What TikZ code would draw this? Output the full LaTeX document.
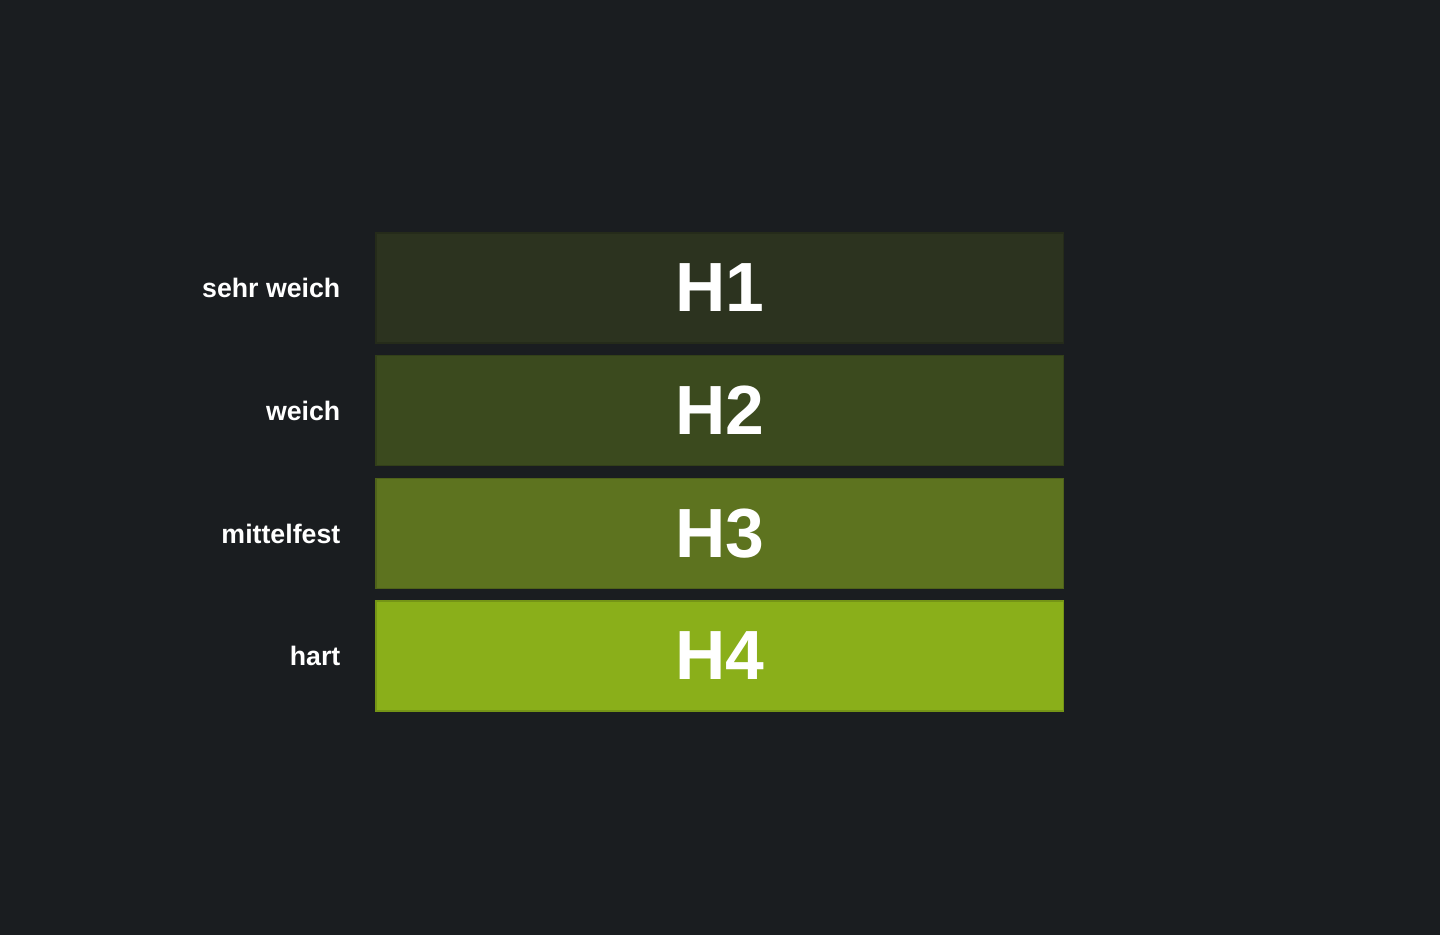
\documentclass[tikz,border=0pt]{standalone}
\usepackage{fontspec}
\setmainfont{Liberation Sans}
\usepackage{xcolor}
\usetikzlibrary{positioning}
\definecolor{bgdark}{HTML}{1A1D20}
\definecolor{hone}{HTML}{2C331F}
\definecolor{htwo}{HTML}{3B4A1E}
\definecolor{hthree}{HTML}{5D731F}
\definecolor{hfour}{HTML}{8AAF1A}

\begin{document}
\begin{tikzpicture}[x=0.01cm,y=-0.01cm]
      \tikzstyle{level} = [
        rectangle,
        anchor=center,
        minimum width=6.87cm,
        minimum height=1.10cm,
        inner sep=0pt,
        text=white,
        font=\fontsize{19.8}{20}\selectfont\bfseries,
      ]
      \tikzstyle{desc} = [
        anchor=east,
        text=white,
        inner sep=0pt,
        font=\fontsize{7.6}{9}\selectfont\bfseries,
      ]

      \fill[bgdark] (0,0) rectangle (1440,935);
      \useasboundingbox (0,0) rectangle (1440,935);

      \node[level, fill=hone, draw=hone!85!black] (h1) at (719.5,288) {H1};
      \node[level, fill=htwo, draw=htwo!85!black] (h2) at (719.5,410.5) {H2};
      \node[level, fill=hthree, draw=hthree!85!black] (h3) at (719.5,533.5) {H3};
      \node[level, fill=hfour, draw=hfour!85!black] (h4) at (719.5,656) {H4};

      \node[desc] (d1) at (341,288) {sehr weich};
      \node[desc] (d2) at (341,410.5) {weich};
      \node[desc] (d3) at (341,533.5) {mittelfest};
      \node[desc] (d4) at (341,656) {hart};
\end{tikzpicture}
\end{document}
